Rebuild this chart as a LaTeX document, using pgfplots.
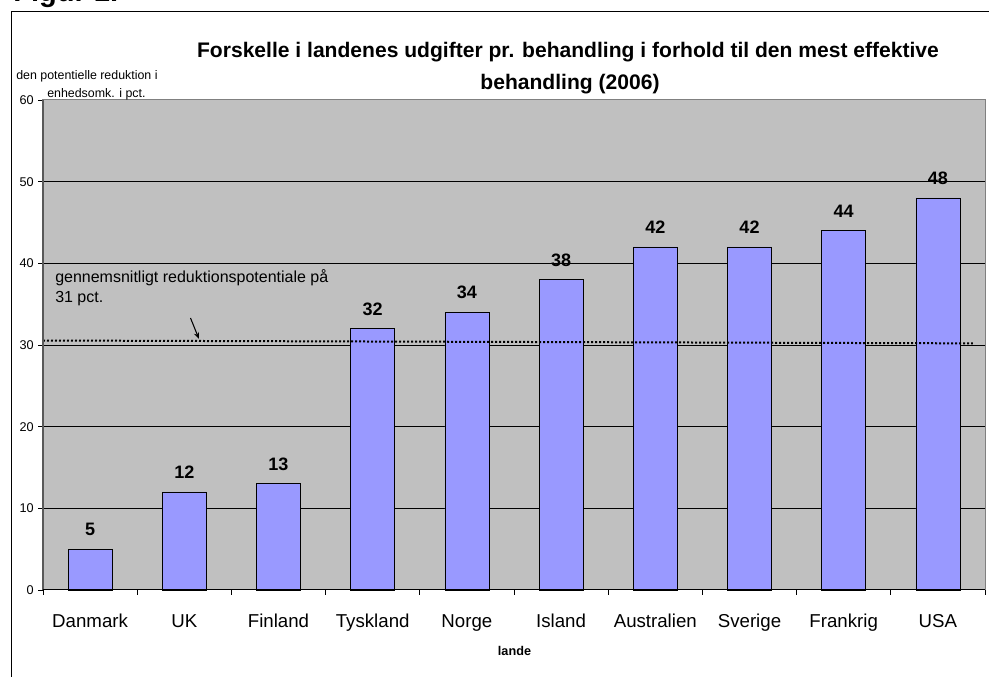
\documentclass[border=0pt]{standalone}
\usepackage{fontspec}
\setmainfont{Liberation Sans}
\usepackage{pgfplots}
\pgfplotsset{compat=1.18}
\usetikzlibrary{arrows.meta}
\definecolor{barblue}{HTML}{9999FF}
\definecolor{plotbg}{HTML}{C0C0C0}
\definecolor{bordergray}{HTML}{808080}
\begin{document}
\begin{tikzpicture}
\useasboundingbox (-32.25pt,-65.25pt) rectangle (709.5pt,442.5pt);
\begin{axis}[
  at={(0,0)}, anchor=south west, scale only axis,
  width=706.5pt, height=367.5pt,
  xmin=-0.5, xmax=9.5, ymin=0, ymax=60,
  axis background/.style={fill=plotbg},
  axis line style={draw=bordergray, line width=0.75pt},
  xtick={-0.5,0.5,...,9.5},
  x tick label as interval,
  xticklabels={Danmark,UK,Finland,Tyskland,Norge,Island,Australien,Sverige,Frankrig,USA},
  ytick={0,10,...,60},
  xtick pos=bottom, ytick pos=left,
  extra y ticks={10,20,30,40,50},
  extra y tick labels={},
  extra y tick style={grid=major, tick style={draw=none}},
  major grid style={black, line width=0.6pt},
  tick align=outside,
  major tick length=3.5pt,
  tick style={black, line width=0.6pt},
  xticklabel style={font=\fontsize{14}{16}\selectfont, anchor=base, inner sep=0pt, yshift=-25pt},
  yticklabel style={font=\fontsize{9.5}{11}\selectfont},
  /pgf/number format/assume math mode=true,
  clip=false,
]
\addplot[ybar, bar width=33pt, fill=barblue, draw=black, line width=0.6pt,
  nodes near coords,
  every node near coord/.append style={font=\bfseries\fontsize{13.5}{15}\selectfont, inner sep=0pt, yshift=9.75pt, black}]
  coordinates {(0,5) (1,12) (2,13) (3,32) (4,34) (5,38) (6,42) (7,42) (8,44) (9,48)};
\addplot[black, line width=1.5pt, dash pattern=on 1.5pt off 1.5pt, forget plot]
  coordinates {(-0.5,30.55) (9.37,30.2)};
\draw[line width=1.5pt, draw=black!65] (rel axis cs:0,0) -- (rel axis cs:0,1);
\draw[line width=0.75pt, black] (rel axis cs:0,0) -- (rel axis cs:1,0);
\end{axis}
\begin{scope}[shift={(-32.25pt,442.5pt)},x=0.75pt,y=-0.75pt]
\draw[line width=1pt] (11.5,700) -- (11.5,11.5) -- (1000,11.5);
\node[anchor=base west, inner sep=0pt, font=\bfseries\fontsize{21.8}{24}\selectfont] at (13,2) {Figur 1.};
\node[anchor=base, inner sep=0pt, font=\bfseries\fontsize{15.8}{18}\selectfont] at (568,57.7) {Forskelle i landenes udgifter pr. behandling i forhold til den mest effektive};
\node[anchor=base, inner sep=0pt, font=\bfseries\fontsize{15.8}{18}\selectfont] at (570,89.5) {behandling (2006)};
\node[anchor=base west, inner sep=0pt, font=\fontsize{9.3}{11}\selectfont] at (16,79.5) {den potentielle reduktion i};
\node[anchor=base west, inner sep=0pt, font=\fontsize{9.3}{11}\selectfont] at (47,97.7) {enhedsomk. i pct.};
\node[anchor=base west, inner sep=0pt, font=\fontsize{12}{14}\selectfont] at (55,283) {gennemsnitligt reduktionspotentiale på};
\node[anchor=base west, inner sep=0pt, font=\fontsize{12}{14}\selectfont] at (55,303) {31 pct.};
\node[anchor=base, inner sep=0pt, font=\bfseries\fontsize{9.5}{11}\selectfont] at (514.5,656) {lande};
\draw[-{Stealth[length=5pt,width=4pt]}, line width=0.8pt] (190.5,318) -- (199,339);
\end{scope}
\end{tikzpicture}
\end{document}
